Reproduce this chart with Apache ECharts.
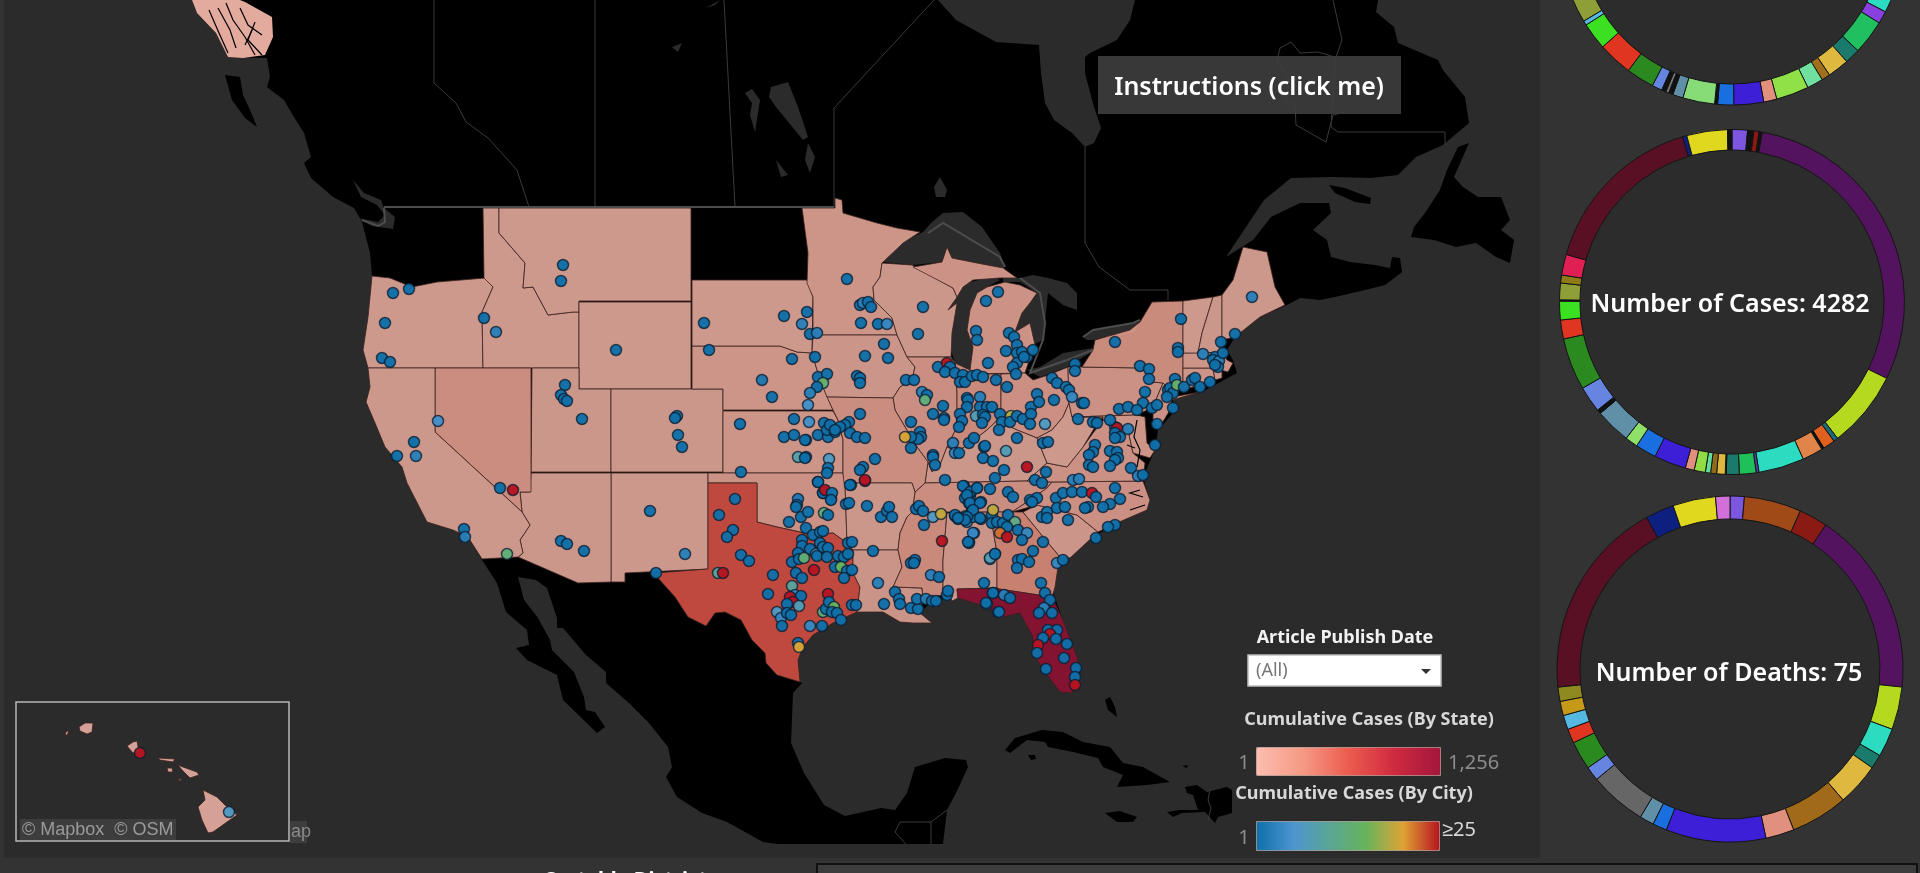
<!DOCTYPE html>
<html>
<head>
<meta charset="utf-8">
<title>Cases map</title>
<style>html,body{margin:0;padding:0;background:#333}#main{width:1920px;height:873px}</style>
<script src="https://cdn.jsdelivr.net/npm/echarts@6/dist/echarts.min.js"></script>
</head>
<body>
<div id="main"></div>
<script>
// map units are the same x/y plane as the picture, the geo component does the scaling
const landMain = [[192,0],[197,13],[216,33],[228,57],[267,58],[270,77],[267,87],[284,100],[294,117],[304,133],[311,157],[304,163],[311,178],[333,197],[354,208],[362,222],[370,253],[372,276],[368,317],[363,350],[368,368],[370,387],[366,402],[375,423],[385,447],[402,467],[407,483],[427,522],[453,530],[468,537],[482,560],[497,583],[506,612],[527,630],[529,645],[516,648],[527,660],[557,675],[563,700],[597,733],[605,727],[595,712],[586,710],[584,697],[574,672],[552,650],[550,640],[538,618],[524,600],[518,577],[536,580],[547,588],[557,618],[557,628],[563,628],[586,655],[606,672],[606,683],[629,703],[649,723],[668,747],[672,767],[666,777],[677,797],[702,813],[727,822],[763,842],[777,844],[943,844],[947,810],[956,793],[968,767],[966,760],[945,758],[915,767],[907,793],[895,810],[881,808],[845,816],[824,805],[804,773],[791,743],[793,693],[802,683],[800,682],[798,660],[803,647],[813,635],[833,623],[857,612],[883,612],[900,622],[913,623],[932,623],[920,613],[930,603],[950,597],[958,598],[987,607],[1003,617],[1020,613],[1033,637],[1032,650],[1042,668],[1060,692],[1072,693],[1080,677],[1077,657],[1063,620],[1052,590],[1058,567],[1067,560],[1093,537],[1117,523],[1147,510],[1150,500],[1143,477],[1155,450],[1158,430],[1173,413],[1173,397],[1200,393],[1237,373],[1233,360],[1227,350],[1235,337],[1260,317],[1287,305],[1300,298],[1320,300],[1335,297],[1365,290],[1385,285],[1402,272],[1400,258],[1392,257],[1390,268],[1375,265],[1350,262],[1331,257],[1327,240],[1313,230],[1331,213],[1329,203],[1300,203],[1271,217],[1253,240],[1226,257],[1242,233],[1264,200],[1291,178],[1331,177],[1371,178],[1398,175],[1416,157],[1443,145],[1469,123],[1465,97],[1443,70],[1438,60],[1398,43],[1394,27],[1376,12],[1378,0],[1135,0],[1130,20],[1117,40],[1090,53],[1085,57],[1085,73],[1094,107],[1101,128],[1094,143],[1085,147],[1072,133],[1054,120],[1045,103],[1041,73],[1039,45],[996,42],[956,20],[938,0]];
const islands = [
  [[1469,143],[1458,147],[1447,170],[1440,190],[1425,213],[1414,227],[1411,237],[1434,240],[1456,247],[1476,243],[1496,257],[1510,263],[1514,240],[1501,230],[1510,220],[1501,197],[1478,197],[1463,187],[1454,177]],
  [[1329,185],[1345,188],[1371,198],[1370,204],[1355,202],[1335,193]],
  [[225,75],[240,77],[243,95],[250,110],[257,127],[245,118],[232,100]],
  [[1005,750],[1015,738],[1042,730],[1063,732],[1083,742],[1110,747],[1123,763],[1143,767],[1170,782],[1147,785],[1117,787],[1123,775],[1103,767],[1098,758],[1073,752],[1048,747],[1045,742],[1027,740],[1010,753]],
  [[1028,755],[1035,755],[1036,759],[1031,760]],
  [[1105,813],[1120,811],[1137,817],[1133,822],[1117,822]],
  [[1185,787],[1197,785],[1207,792],[1227,787],[1232,790],[1232,813],[1218,817],[1215,823],[1205,812],[1182,813],[1173,817],[1167,812],[1180,810],[1198,810],[1193,795],[1187,793]],
  [[1105,700],[1110,697],[1115,707],[1117,717],[1108,710]],
  [[1182,766],[1188,765],[1187,768]]
];
const waterBodies = {
  salish: [[353,180],[364,193],[381,200],[384,208],[395,217],[393,229],[372,226],[358,218],[378,222],[385,215],[377,205],[361,197]],
  winnipeg: [[771,87],[788,82],[798,107],[808,137],[803,140],[776,107],[769,97]],
  winnipeg2: [[808,143],[815,157],[810,173],[805,160]],
  winnipeg3: [[776,160],[788,175],[781,177]],
  manitoba: [[745,93],[752,89],[760,100],[758,113],[755,132],[750,115],[752,103]],
  reindeer: [[672,47],[682,43],[678,52]],
  athabasca: [[706,8],[720,0],[715,5]],
  nipigon: [[934,187],[940,177],[947,190],[945,197],[936,197]],
  superior: [[883,262],[900,243],[923,232],[932,222],[943,213],[963,212],[982,227],[1000,253],[1005,270],[987,265],[977,263],[952,258],[947,247],[942,262],[913,265]],
  michigan: [[960,287],[970,282],[993,277],[1000,280],[987,287],[977,293],[970,310],[967,330],[973,347],[970,370],[955,363],[950,347],[952,330],[955,307]],
  greenBay: [[948,310],[957,293],[963,290],[957,305]],
  huron: [[1003,278],[1020,278],[1033,275],[1048,278],[1067,283],[1077,293],[1077,310],[1063,305],[1048,293],[1047,303],[1045,323],[1043,340],[1033,345],[1030,333],[1030,323],[1015,332],[1022,313],[1030,303],[1037,293],[1020,282],[1003,282]],
  erie: [[1027,370],[1040,377],[1067,367],[1095,350],[1093,348],[1063,353],[1040,367]],
  ontario: [[1083,337],[1093,330],[1133,323],[1140,322],[1135,332],[1093,340],[1087,340]]
};
const stateShapes = {
  Alaska: [[192,0],[197,13],[216,33],[228,57],[243,58],[265,55],[273,37],[272,17],[245,2],[240,0]],
  Oregon: [[372,276],[390,278],[412,287],[437,282],[485,278],[493,287],[482,312],[483,368],[368,368],[363,350],[368,317]],
  Idaho: [[483,208],[499,208],[499,233],[525,263],[523,288],[533,287],[548,315],[573,312],[579,312],[579,368],[483,368],[482,312],[493,287],[484,278]],
  Montana: [[499,208],[691,208],[691,301],[579,301],[579,312],[573,312],[548,315],[533,287],[523,288],[525,263],[499,233]],
  Wyoming: [[579,302],[691,302],[691,389],[579,389]],
  Utah: [[532,368],[579,368],[579,389],[611,389],[611,472],[531,472]],
  Colorado: [[611,389],[723,389],[723,472],[611,472]],
  'New Mexico': [[611,473],[708,473],[708,569],[625,573],[625,582],[611,582]],
  Arizona: [[531,473],[611,473],[611,582],[578,583],[518,557],[523,553],[520,540],[530,525],[522,512],[520,492],[530,492]],
  Nevada: [[435,368],[531,368],[531,492],[520,492],[522,512],[435,432]],
  California: [[368,368],[435,368],[435,432],[522,512],[530,525],[520,540],[523,553],[518,557],[482,559],[468,537],[453,530],[427,522],[407,483],[402,467],[385,447],[375,423],[366,402],[370,387]],
  Nebraska: [[692,346],[780,346],[797,352],[812,353],[817,370],[823,387],[833,410],[723,410],[723,389],[692,389]],
  'South Dakota': [[692,280],[807,280],[813,297],[812,353],[797,352],[780,346],[692,346]],
  Kansas: [[723,411],[833,411],[838,420],[843,440],[843,473],[723,473]],
  Oklahoma: [[708,473],[843,473],[845,483],[847,543],[833,533],[810,535],[800,532],[777,527],[757,522],[757,483],[708,483]],
  Texas: [[708,483],[757,483],[757,522],[777,527],[800,532],[810,535],[833,533],[847,543],[853,550],[853,573],[860,587],[857,612],[833,623],[813,635],[803,647],[798,660],[800,682],[777,675],[766,663],[765,653],[752,640],[741,620],[725,612],[715,613],[706,626],[688,617],[675,597],[658,578],[655,573],[708,569]],
  Minnesota: [[802,208],[835,208],[835,198],[842,200],[843,213],[877,223],[897,228],[920,232],[903,243],[882,263],[880,277],[873,287],[874,300],[892,318],[897,335],[813,335],[813,297],[807,283],[808,253]],
  Iowa: [[813,335],[897,335],[907,357],[915,367],[912,380],[900,387],[893,398],[827,397],[823,387],[817,370],[812,353]],
  Wisconsin: [[873,287],[880,277],[882,263],[912,265],[953,288],[957,297],[948,310],[957,303],[952,333],[951,357],[907,357],[897,335],[892,318],[874,300]],
  'Michigan UP': [[913,267],[942,262],[947,247],[952,258],[977,263],[1003,268],[1017,278],[1000,278],[973,280],[963,287],[957,297],[953,288]],
  Michigan: [[1005,282],[1020,285],[1037,293],[1030,303],[1022,313],[1015,332],[1030,323],[1035,345],[1027,367],[1025,373],[973,374],[970,370],[973,347],[967,330],[970,310],[977,293],[987,287]],
  Illinois: [[907,357],[951,357],[955,363],[957,392],[957,427],[947,447],[940,465],[932,472],[928,462],[917,447],[908,432],[895,410],[893,398],[900,387],[912,380],[915,367]],
  Indiana: [[955,363],[970,370],[973,374],[1001,374],[1001,417],[987,430],[970,443],[957,452],[947,447],[957,427],[957,392]],
  Ohio: [[1001,374],[1025,373],[1033,380],[1048,375],[1068,367],[1069,403],[1063,417],[1052,430],[1037,438],[1017,430],[1002,423],[1001,417]],
  Kentucky: [[1001,417],[1002,423],[1017,430],[1037,438],[1047,463],[1027,481],[925,483],[928,462],[932,472],[940,465],[947,447],[957,452],[970,443],[987,430]],
  Tennessee: [[925,483],[1027,481],[1052,482],[1047,488],[1030,500],[1012,512],[912,512],[915,492]],
  Missouri: [[827,397],[893,398],[895,410],[908,432],[917,447],[928,462],[925,483],[915,492],[912,483],[844,483],[843,473],[843,440],[838,420],[833,410]],
  Arkansas: [[844,483],[912,483],[915,492],[912,512],[907,517],[900,533],[898,550],[853,550],[847,543],[845,483]],
  Louisiana: [[853,550],[898,550],[902,567],[893,587],[922,588],[923,598],[920,613],[932,623],[913,623],[900,622],[883,612],[857,612],[860,587],[853,573]],
  Mississippi: [[912,512],[947,513],[943,560],[943,595],[923,598],[922,588],[893,587],[902,567],[898,550],[900,533],[907,517]],
  Alabama: [[947,513],[990,512],[997,553],[997,588],[957,589],[958,598],[952,601],[948,593],[943,595],[943,560]],
  Georgia: [[990,512],[1023,512],[1040,533],[1060,557],[1058,567],[1055,587],[1052,597],[999,589],[997,588],[997,553]],
  Florida: [[957,589],[997,588],[999,589],[1052,597],[1063,620],[1077,657],[1080,677],[1072,693],[1060,692],[1042,668],[1032,650],[1033,637],[1020,613],[1003,617],[987,607],[958,598]],
  'South Carolina': [[1023,512],[1037,505],[1077,515],[1098,532],[1070,558],[1060,557],[1040,533]],
  'North Carolina': [[1052,482],[1143,481],[1150,500],[1147,510],[1117,523],[1098,532],[1077,515],[1037,505],[1012,512],[1030,500],[1047,488]],
  Virginia: [[1027,481],[1047,463],[1067,467],[1083,447],[1093,433],[1103,420],[1128,430],[1133,453],[1145,463],[1143,481],[1052,482]],
  'West Virginia': [[1037,438],[1052,430],[1063,417],[1069,403],[1072,417],[1103,417],[1095,427],[1083,447],[1067,467],[1047,463]],
  Pennsylvania: [[1068,367],[1082,367],[1142,368],[1153,382],[1163,383],[1153,407],[1137,415],[1072,417],[1069,403]],
  'New York': [[1082,367],[1093,350],[1095,340],[1130,330],[1140,322],[1152,302],[1183,301],[1183,330],[1183,387],[1173,397],[1163,383],[1153,382],[1142,368]],
  'Long Island': [[1167,398],[1200,392],[1172,400]],
  'New Jersey': [[1163,383],[1173,393],[1170,410],[1158,430],[1153,420],[1153,407]],
  Maryland: [[1072,417],[1137,415],[1145,417],[1147,443],[1155,450],[1150,458],[1133,453],[1128,430],[1103,420],[1103,417]],
  Connecticut: [[1183,368],[1213,368],[1215,380],[1183,390]],
  Massachusetts: [[1183,353],[1222,352],[1227,360],[1233,363],[1228,372],[1213,368],[1183,368]],
  'Rhode Island': [[1213,368],[1222,367],[1222,378],[1215,380]],
  Vermont: [[1183,301],[1213,297],[1202,333],[1198,353],[1183,353]],
  'New Hampshire': [[1213,297],[1222,295],[1222,340],[1222,352],[1198,353],[1202,333]],
  Maine: [[1222,295],[1233,280],[1243,247],[1267,252],[1275,287],[1285,305],[1260,317],[1235,337],[1222,340]],
  Kauai: [[79,727],[85,723],[93,723],[92,732],[87,734],[80,731]],
  Niihau: [[65,733],[69,730],[67,736]],
  Oahu: [[127,746],[133,742],[137,741],[139,752],[133,753]],
  Molokai: [[158,758],[175,759],[173,762],[160,760]],
  Lanai: [[167,768],[172,768],[173,772],[168,772]],
  Maui: [[178,765],[183,767],[197,772],[199,775],[190,778],[182,770]],
  Kahoolawe: [[178,780],[182,778],[180,781]],
  Hawaii: [[203,790],[217,797],[227,807],[237,815],[227,822],[213,832],[208,833],[202,820],[198,807],[205,800]]
};
const stateCases = {Alaska:10,Oregon:20,Idaho:15,Montana:18,Wyoming:12,Utah:40,Colorado:35,'New Mexico':25,Arizona:35,Nevada:140,California:30,Nebraska:60,'South Dakota':20,Kansas:60,Oklahoma:100,Texas:640,Minnesota:60,Iowa:50,Wisconsin:35,'Michigan UP':90,Michigan:90,Illinois:120,Indiana:180,Ohio:110,Kentucky:40,Tennessee:130,Missouri:130,Arkansas:35,Louisiana:70,Mississippi:180,Alabama:70,Georgia:280,Florida:1256,'South Carolina':50,'North Carolina':110,Virginia:100,'West Virginia':15,Pennsylvania:100,'New York':170,'Long Island':170,'New Jersey':100,Maryland:60,Connecticut:60,Massachusetts:60,'Rhode Island':40,Vermont:15,'New Hampshire':40,Maine:30,Kauai:10,Niihau:10,Oahu:10,Molokai:10,Lanai:10,Maui:10,Kahoolawe:10,Hawaii:10};

// x, y, cumulative cases
const cityPoints = [
[393,293,1],[409,289,1],[385,323,1],[382,358,1],[390,362,1],[484,318,1],[496,332,3],[563,265,1],[561,281,1],[616,350,1],[704,323,1],[709,350,1],[784,316,1],[807,312,1],[802,324,3],[810,334,1],[817,333,3],[815,357,1],[792,359,1],[762,380,2],[772,397,1],[818,377,1],[827,374,1],[823,383,14],[817,387,1],[810,393,3],[808,405,5],[740,424,1],[794,419,1],[809,422,5],[784,437,1],[794,435,1],[806,440,1],[824,423,1],[818,435,1],[828,437,1],[827,430,1],[835,432,1],[830,425,1],[798,457,9],[806,457,1],[829,459,7],[828,468,1],[827,473,1],[741,472,1],[818,482,1],[824,492,25],[823,493,1],[831,499,1],[438,421,5],[414,442,1],[397,456,1],[416,456,3],[500,488,1],[513,490,25],[565,385,1],[561,395,1],[564,399,1],[567,401,1],[582,419,1],[677,416,1],[675,418,1],[678,435,1],[682,447,1],[650,511,1],[561,541,1],[567,544,1],[584,551,1],[685,554,3],[656,573,1],[464,529,1],[465,537,3],[507,554,13],
[735,499,1],[719,515,1],[733,530,1],[727,537,1],[741,555,1],[749,561,1],[718,573,10],[723,573,25],[773,575,1],[768,594,1],[796,573,1],[802,578,1],[792,586,10],[814,570,25],[828,594,25],[789,522,1],[801,517,1],[808,512,1],[798,499,2],[797,505,1],[796,507,1],[824,513,13],[828,515,1],[806,528,1],[813,535,1],[820,532,1],[823,531,1],[802,540,1],[802,546,1],[798,553,1],[810,549,1],[816,554,8],[817,556,1],[820,543,1],[823,547,1],[828,548,1],[827,557,1],[838,556,1],[844,557,1],[848,554,1],[848,543,1],[852,542,1],[792,562,1],[799,559,1],[804,558,13],[835,567,1],[841,567,15],[847,571,1],[852,570,1],[844,578,1],[795,595,4],[801,596,1],[790,597,25],[793,602,25],[787,604,1],[799,606,8],[777,612,7],[781,618,4],[787,613,1],[791,615,1],[782,626,1],[810,626,4],[822,626,1],[823,612,13],[826,609,1],[829,602,1],[834,607,15],[832,612,1],[837,613,1],[841,620,1],[852,605,1],[856,605,1],[798,643,1],[799,647,20],
[818,482,1],[823,493,1],[825,490,25],[832,493,1],[831,500,1],[851,485,1],[846,504,1],[849,503,1],[867,506,1],[881,517,1],[887,511,1],[889,507,1],[892,517,1],[865,481,25],[873,551,1],[878,583,3],[884,604,1],[895,592,1],[899,599,1],[900,604,1],[911,608,1],[918,609,1],[917,599,1],[926,599,3],[932,601,1],[936,601,1],[916,509,1],[919,506,1],[923,511,1],[924,525,1],[933,517,7],[941,514,19],[942,541,25],[911,563,1],[915,560,1],[914,563,1],[931,575,3],[939,577,1],[947,595,1],[948,591,1],[955,516,1],[958,519,1],[966,516,1],[967,522,3],[973,517,1],[972,509,1],[981,519,1],[981,502,1],[970,497,1],[977,488,1],[965,498,1],[971,492,1],[964,486,1],[969,503,1],[974,533,4],[969,542,1],[969,543,1],[984,583,1],[993,593,1],[987,604,1],[998,612,3],[990,559,8],[995,554,1],
[847,279,1],[860,305,1],[863,303,3],[868,302,1],[871,307,1],[861,323,1],[878,324,1],[887,324,4],[923,307,1],[918,334,1],[884,344,1],[865,356,1],[888,358,1],[857,376,1],[860,378,1],[860,383,1],[906,380,1],[914,380,1],[922,392,3],[927,395,1],[925,400,13],[943,406,1],[933,414,1],[944,418,1],[944,420,1],[911,422,1],[920,432,1],[921,437,1],[918,439,1],[911,437,1],[905,437,20],[911,448,1],[933,455,1],[933,457,1],[935,465,1],[953,443,3],[955,453,4],[959,453,1],[969,443,1],[974,438,1],[984,447,1],[985,446,1],[983,458,1],[993,461,1],[1004,470,1],[1006,451,8],[1017,438,1],[1027,467,25],[995,478,1],[945,480,1],[938,367,1],[947,363,25],[950,367,1],[945,372,1],[955,373,1],[963,375,1],[960,382,1],[965,382,1],[972,376,1],[977,375,1],[983,377,1],[996,380,1],[1007,387,1],[967,398,1],[968,400,1],[980,397,3],[967,407,1],[980,407,1],[987,407,1],[992,407,1],[960,414,1],[976,416,8],[983,415,1],[985,417,1],[962,421,1],[982,423,1],[959,427,1],[1000,414,1],[1002,422,1],[999,430,1],[1011,416,18],[1010,422,1],[1017,416,1],[1023,419,1],[1031,407,1],[1031,414,1],[1037,394,1],[1039,402,1],[1054,400,1],[1030,424,1],[1045,424,7],[1078,419,1],[1052,378,1],[1057,383,1],[1066,387,1],[1069,390,1],[1072,397,4],[1082,403,1],[1084,403,1],[1075,364,1],[1075,371,1],
[998,292,1],[986,301,1],[976,331,1],[977,340,1],[988,363,1],[1009,333,1],[1014,337,1],[1017,345,1],[1006,351,1],[1017,353,1],[1022,352,1],[1027,357,1],[1033,350,1],[1017,363,1],[1013,367,1],[1016,374,1],[1024,357,1],[963,486,1],[970,492,1],[977,488,1],[967,495,1],[970,503,1],[980,503,1],[990,489,1],[1008,492,1],[1013,497,1],[1030,500,1],[1037,498,1],[1035,480,1],[1042,483,1],[1046,472,1],[1043,443,1],[1048,442,1],[973,510,1],[967,517,1],[965,520,1],[980,518,1],[955,515,1],[958,518,1],[973,533,4],[968,542,1],[992,515,1],[993,510,19],[992,523,1],[997,522,1],[1003,523,1],[1008,515,1],[1015,522,12],[1007,527,1],[1000,533,22],[1007,537,25],[1018,530,1],[1027,533,4],[1022,540,1],[1043,542,1],[1033,551,1],[990,558,8],[995,554,1],[1018,560,1],[1022,559,1],[1029,562,1],[1017,568,1],[1041,583,1],[1057,563,4],[1063,560,1],[1042,517,1],[1047,512,1],[1047,518,1],[1068,520,1],[1032,502,1],
[1056,498,1],[1063,493,1],[1072,492,1],[1082,492,1],[1057,508,1],[1065,507,1],[1073,480,3],[1079,479,3],[1092,493,25],[1096,497,1],[1115,488,1],[1120,499,1],[1110,504,1],[1103,507,1],[1088,507,1],[1085,508,1],[1115,525,1],[1108,527,1],[1096,538,1],[1115,427,1],[1117,428,25],[1115,433,1],[1128,429,3],[1120,437,1],[1115,438,1],[1095,445,1],[1093,452,1],[1089,455,1],[1089,465,1],[1093,467,1],[1110,451,1],[1117,452,1],[1118,458,1],[1115,460,1],[1110,466,1],[1131,468,1],[1138,476,3],[1143,475,1],[1155,445,1],[1110,420,1],[1093,422,1],[1097,423,1],[1140,366,1],[1149,369,1],[1149,379,1],[1145,392,1],[1143,403,1],[1119,409,1],[1128,407,1],[1137,410,1],[1152,408,1],[1157,405,1],[1173,408,1],[1157,424,1],[1168,390,1],[1170,388,1],[1173,393,1],[1175,379,1],[1177,385,14],[1184,387,1],[1192,380,1],[1195,378,1],[1200,387,1],[1210,382,1],[1167,397,1],[1115,342,1],[1178,348,1],[1178,352,1],[1181,319,1],[1203,354,3],[1221,342,1],[1215,357,1],[1213,360,1],[1219,361,3],[1223,353,1],[1218,367,1],[1215,365,1],[1235,334,1],[1252,297,3],
[993,593,1],[1004,595,3],[1010,598,1],[986,603,1],[999,612,1],[1045,593,1],[1050,600,1],[1044,608,3],[1039,613,1],[1052,613,1],[1048,630,1],[1057,630,1],[1050,634,25],[1043,638,1],[1056,639,1],[1067,644,1],[1038,645,25],[1037,653,1],[1064,658,1],[1076,668,1],[1046,669,1],[1075,677,1],[1075,685,25],
[860,414,1],[875,459,1],[863,467,1],[860,470,1],[865,480,25],[850,485,1],[849,422,1],[845,425,1],[840,427,1],[835,430,1],[850,433,1],[857,437,1],[865,438,1],[805,440,1],[805,458,1],
[140,753,25],[229,812,7]
];

const provinceLines = [
  [[434,0],[434,83],[456,103],[466,122],[488,138],[517,170],[529,207]],
  [[595,0],[595,207]],
  [[724,0],[735,207]],
  [[834,207],[834,108],[934,0]],
  [[1085,147],[1085,243],[1099,267],[1130,290],[1168,290],[1168,300]],
  [[1333,0],[1342,40],[1335,60],[1331,127],[1338,132],[1445,132],[1445,145]],
  [[1280,48],[1291,42],[1300,53],[1318,52],[1338,58]],
  [[1280,48],[1277,60],[1290,80],[1285,100],[1295,105],[1296,125],[1326,142],[1333,115],[1345,112]],
  [[900,822],[931,822],[947,810]],[[931,822],[931,844]],[[900,822],[895,832],[906,844]],
  [[1210,790],[1208,800],[1211,808],[1208,820]]
];
const borderLines = [
  [[384,207],[834,207]],
  [[362,220],[378,226],[385,222],[384,208]],
  [[928,233],[943,223],[1000,257],[1005,267]],
  [[1020,278],[1040,293],[1045,323],[1043,340],[1030,373],[1067,360],[1093,350]],
  [[1083,337],[1093,330],[1133,323],[1140,320]]
];
const coastMarks = [
  [[209,10],[219,33],[228,53]],[[226,3],[233,20],[245,37],[255,55]],[[255,22],[248,40],[262,55]],[[218,8],[230,30],[236,48]],[[240,8],[248,25],[262,35]],[[245,45],[252,30]],
  [[1137,420],[1134,437],[1140,450],[1137,467]],[[1135,448],[1127,445]],
  [[1140,490],[1130,493],[1143,497]],[[1130,510],[1145,505]]
];

const caseSliceValues = [62,25,21,13,1262,309,18,48,10,83,183,11,67,52,4,34,24,21,45,36,128,84,51,142,17,105,209,76,75,5,67,32,83,682,17,163,18];
const caseSliceColors = ['#7b57e0','#111111','#8b1a14','#111111','#54135e','#b5d91f','#1a6a78','#e0601f','#111111','#e0844a','#2bdcc0','#5a3ab0','#1fc05a','#1a7a6c','#111111','#dfb93f','#8f6a18','#5fdc9e','#8fdc45','#e0907c','#3d1fd8','#1a6fe0','#8fe068','#6090a8','#111111','#6585e0','#2a8a1f','#e03520','#3be021','#111111','#8f9f38','#8f7a18','#e01f55','#5a1024','#0d2080','#e0d81f','#111111'];
const deathSliceValues = [1,4,2,13,3,2,1,3,4,2,7,1,1,4,1,2,1,1,1,1,14,2,3,1];
const deathSliceColors = ['#7b57e0','#a04a18','#8a1a14','#54135e','#b5d91f','#2bdcc0','#1a7a6c','#dfb93f','#a06a18','#e0907c','#3d1fd8','#1a6fe0','#6090a8','#666666','#6585e0','#2a8a1f','#e03520','#55b8e0','#c49a18','#8f8a20','#5a1024','#0d2080','#e0d81f','#d070d8'];
// the upper part of this ring runs off the top of the picture
const topSliceValues = [1000,175,42,116,52,72,29,54,110,44,100,54,10,107,35,15,10,15,34,94,116,91,15,170,1040];
const topSliceColors = ['#54135e','#2bdcc0','#8a3fe0','#20c060','#1a7a6c','#dfb93f','#a0701c','#70e0a0','#90e048','#e0907c','#3d1fd8','#1a6fe0','#111111','#88dc78','#6090a8','#111111','#777777','#111111','#6585e0','#2a8a1f','#e03520','#3be021','#55b8e0','#8f9f38','#5a1024'];

const stateScale = ['#fcbeb0','#f59a85','#ec5c4e','#cf2a40','#a2163c'];
const cityScale = ['#0f6fa9','#4b95cf','#5ba596','#67b45a','#dfa334','#b71420'];

function feature(name, rings) {
  return {type:'Feature', properties:{name:name}, geometry:{type:'MultiPolygon', coordinates:rings.map(r => [r.concat([r[0]])])}};
}
const baseFeatures = [feature('land', [landMain].concat(islands))];
Object.keys(waterBodies).forEach(k => baseFeatures.push(feature(k, [waterBodies[k]])));
const stateFeatures = Object.keys(stateShapes).map(k => feature(k, [stateShapes[k]]));
echarts.registerMap('northAmerica', {type:'FeatureCollection', features:baseFeatures});
echarts.registerMap('states', {type:'FeatureCollection', features:stateFeatures});

const flat = {project: p => p, unproject: p => p};
const uiFont = "'Noto Sans', sans-serif";

function geoLayer(map, z, extra) {
  return Object.assign({
    map: map, z: z, left: 0, top: 0, width: 1920, height: 873,
    projection: flat, boundingCoords: [[0,0],[1920,873]],
    silent: true, roam: false, label: {show:false},
    emphasis: {disabled:true}, select: {disabled:true}
  }, extra);
}
function ring(center, outer, inner, values, colors) {
  return {
    type:'pie', center:center, radius:[inner,outer], startAngle:90, clockwise:true, z:5,
    silent:true, animation:false, label:{show:false}, labelLine:{show:false},
    itemStyle:{borderColor:'#141414', borderWidth:1},
    data: values.map((v,i) => ({value:v, itemStyle:{color:colors[i]}}))
  };
}
function disc(center, r) {
  return {type:'pie', center:center, radius:[0,r], z:4, silent:true, animation:false, label:{show:false},
    labelLine:{show:false}, itemStyle:{color:'#2c2c2c'}, data:[{value:1}]};
}
function lineSet(lines, color, width) {
  return {type:'lines', coordinateSystem:'geo', geoIndex:0, polyline:true, silent:true, z:2, animation:false,
    lineStyle:{color:color, width:width, opacity:1}, data:lines.map(l => ({coords:l}))};
}
function text(t, x, y, font, color, align, extra) {
  return Object.assign({type:'text', z:30, silent:true, style:{text:t, x:x, y:y, font:font, fill:color, align:align||'center', verticalAlign:'middle'}}, extra);
}
function box(x, y, w, h, fill, stroke, lw, z) {
  return {type:'rect', z:z===undefined?20:z, silent:true, shape:{x:x,y:y,width:w,height:h}, style:{fill:fill, stroke:stroke||null, lineWidth:lw||0}};
}

const chart = echarts.init(document.getElementById('main'));
chart.setOption({
  animation:false,
  backgroundColor:'#333333',
  geo:[
    geoLayer('northAmerica', 0, {
      itemStyle:{areaColor:'#000000', borderWidth:0},
      regions:Object.keys(waterBodies).map(k => ({name:k, itemStyle:{areaColor:'#2b2b2b', borderWidth:0}}))
    }),
    geoLayer('states', 1, {
      itemStyle:{areaColor:'#cb9b90', opacity:0.81, borderColor:'#3c2320', borderWidth:1},
      regions:[{name:'Alaska', itemStyle:{opacity:0.9, borderWidth:0}}]
    })
  ],
  visualMap:[
    {type:'continuous', seriesIndex:0, min:1, max:1256, orient:'horizontal', left:1256, top:747, itemWidth:28, itemHeight:184,
     calculable:false, realtime:false, text:null, padding:0, borderColor:'#a08a80', borderWidth:1, inRange:{color:stateScale}, silent:true},
    {type:'continuous', seriesIndex:4, dimension:2, min:1, max:25, orient:'horizontal', left:1256, top:821, itemWidth:29, itemHeight:183,
     calculable:false, realtime:false, text:null, padding:0, borderColor:'#a08a80', borderWidth:1, inRange:{color:cityScale}, silent:true}
  ],
  series:[
    {type:'map', geoIndex:1, data:Object.keys(stateCases).map(k => ({name:k, value:stateCases[k]}))},
    lineSet(provinceLines, '#3a3a3a', 1),
    lineSet(borderLines, '#4d4d4d', 2),
    lineSet(coastMarks, '#000000', 1.2),
    {type:'scatter', coordinateSystem:'geo', geoIndex:0, z:3, silent:true, animation:false, symbolSize:11,
     itemStyle:{borderColor:'rgba(12,30,48,0.8)', borderWidth:1.5, opacity:0.97}, data:cityPoints},
    disc([1732,-68],152), ring([1732,-68],173,152,topSliceValues,topSliceColors),
    disc([1732,302],152), ring([1732,302],172.5,152,caseSliceValues,caseSliceColors),
    disc([1730,669],150), ring([1730,669],173,150,deathSliceValues,deathSliceColors)
  ],
  graphic:[
    box(4,0,1536,858,'#2b2b2b',null,0,-1),
    box(817,864,1100,20,'#3c3c3c','#111111',2,1),
    box(1098,56,303,58,'rgba(62,62,62,0.9)'),
    text('Instructions (click me)',1249,88,"600 25px "+uiFont,'#ffffff'),
    text('Number of Cases: 4282',1730,305,"600 25px "+uiFont,'#ffffff'),
    text('Number of Deaths: 75',1729,674,"600 25px "+uiFont,'#ffffff'),
    text('Article Publish Date',1345,638,"bold 18px "+uiFont,'#f2f2f2'),
    box(1248,655,193,31,'#ffffff','#bdbdbd',1.5),
    text('(All)',1256,671,"18px "+uiFont,'#777777','left'),
    {type:'polygon', z:31, silent:true, shape:{points:[[1421,669],[1431,669],[1426,674]]}, style:{fill:'#333333'}},
    text('Cumulative Cases (By State)',1369,720,"bold 18px "+uiFont,'#d8d8d8'),
    text('1',1244,763,"20px "+uiFont,'#8c8c8c'),
    text('1,256',1448,763,"20px "+uiFont,'#8c8c8c','left'),
    text('Cumulative Cases (By City)',1354,794,"bold 18px "+uiFont,'#d8d8d8'),
    text('1',1244,838,"20px "+uiFont,'#8c8c8c'),
    text('≥25',1442,830,"20px "+uiFont,'#d8d8d8','left'),
    box(16,702,273,139,null,'#b8b8b8',1.5),
    box(20,819,156,21,'rgba(70,70,70,0.65)'),
    text('© Mapbox  © OSM',22,830,"18px 'Liberation Sans', sans-serif",'#9a9a9a','left'),
    box(290,821,17,22,'rgba(70,70,70,0.65)'),
    text('ap',291,832,"18px 'Liberation Sans', sans-serif",'#8a8a8a','left'),
    text('Sortable District',626,880,"bold 20px "+uiFont,'#ffffff')
  ]
});
</script>
</body>
</html>
